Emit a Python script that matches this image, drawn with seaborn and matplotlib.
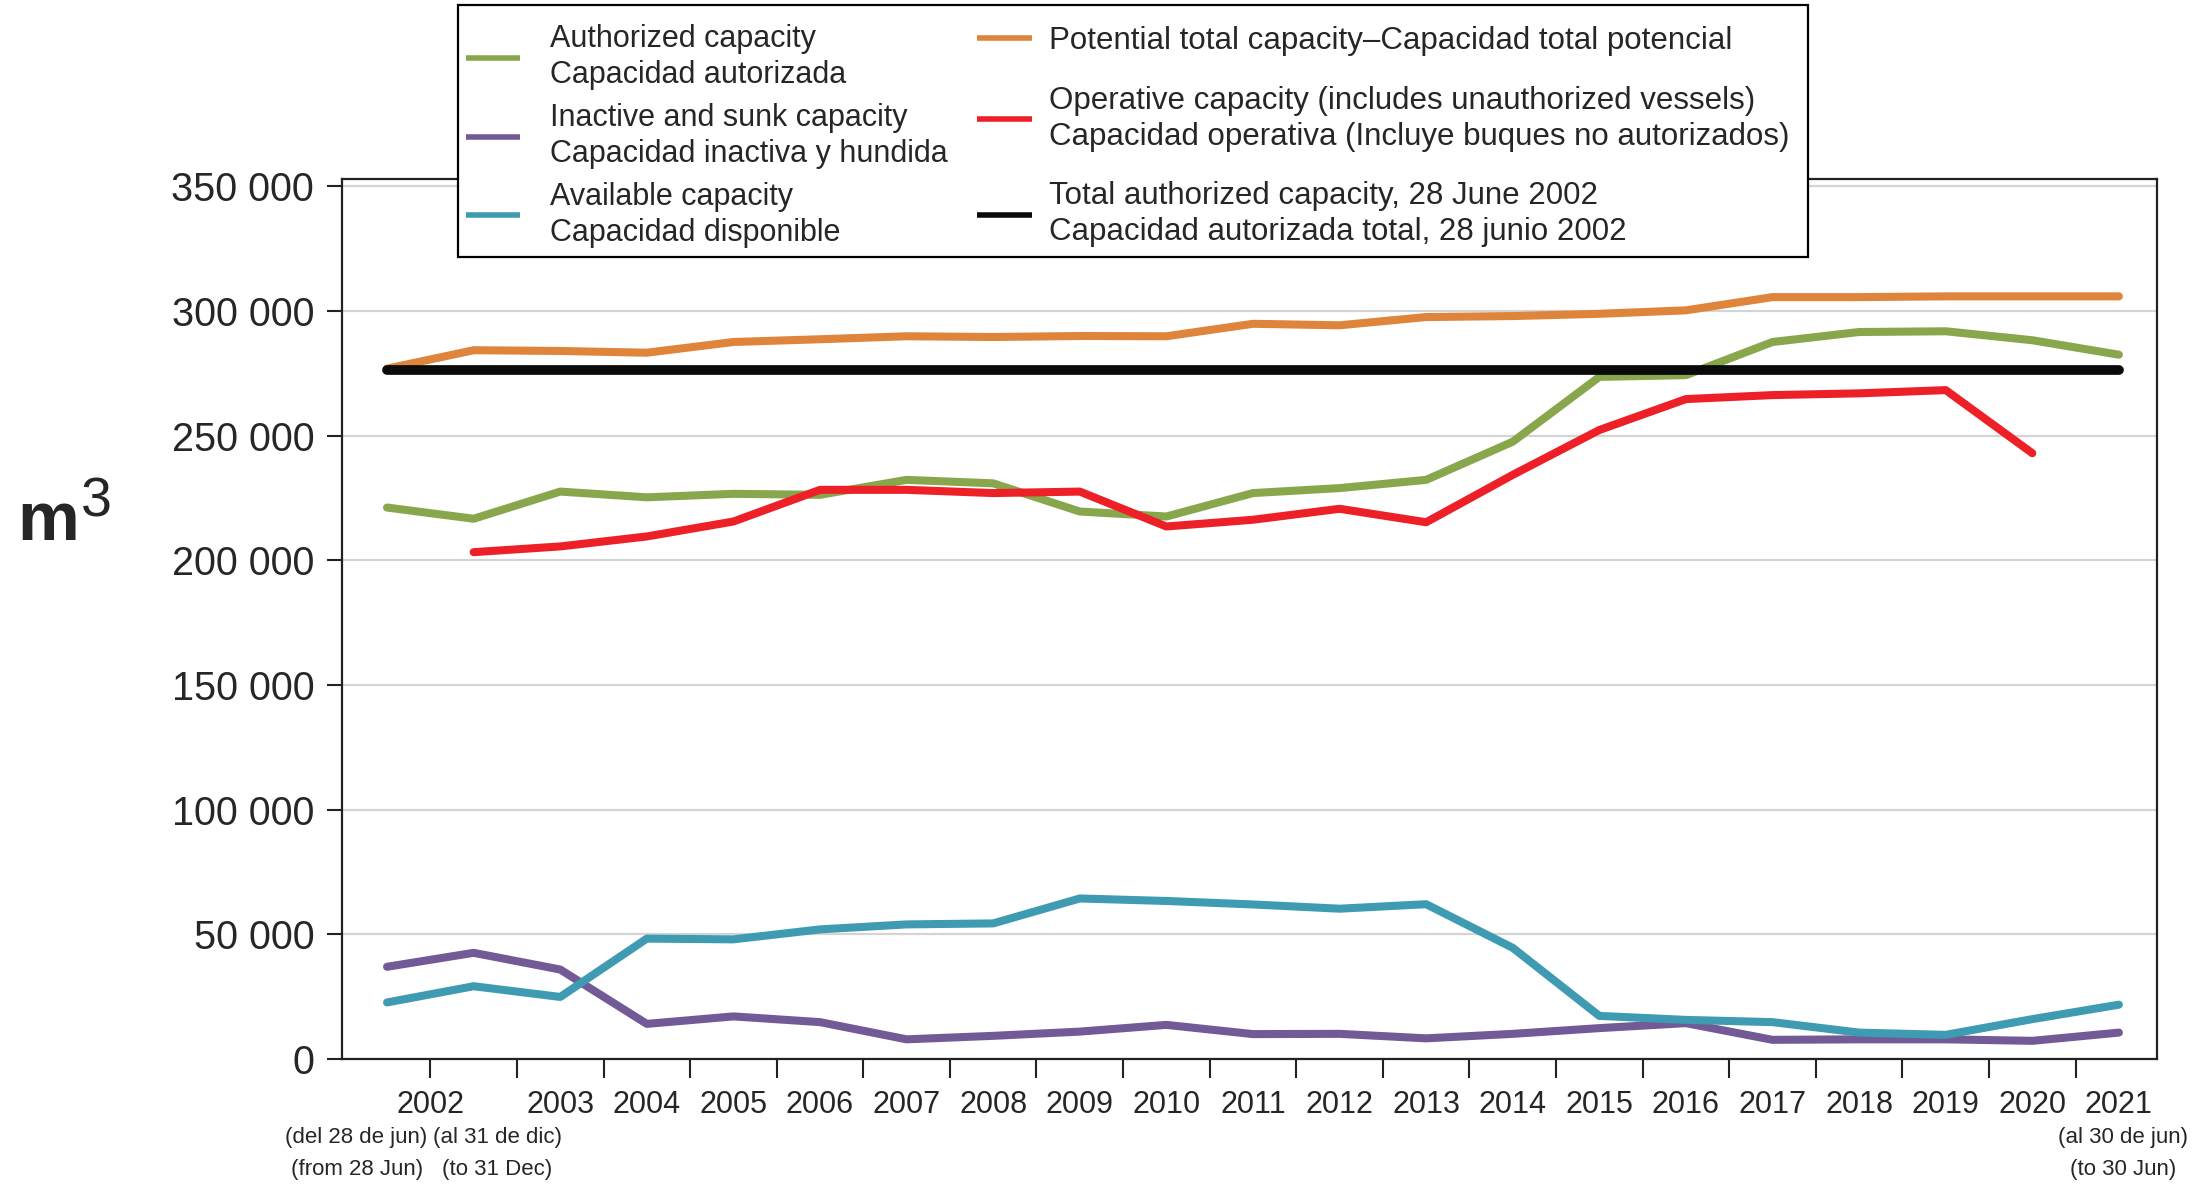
import numpy as np
import pandas as pd
import seaborn as sns
import matplotlib
import matplotlib.pyplot as plt
import matplotlib.transforms as mtransforms
from matplotlib.patches import Rectangle

matplotlib.use('Agg')

# 2002 is split in two periods (from 28 Jun / to 31 Dec), 2021 only to 30 Jun
periods = ['2002a', '2002b', '2003', '2004', '2005', '2006', '2007', '2008', '2009', '2010',
           '2011', '2012', '2013', '2014', '2015', '2016', '2017', '2018', '2019', '2020', '2021']
year_labels = ['2002', '2003', '2004', '2005', '2006', '2007', '2008', '2009', '2010', '2011',
               '2012', '2013', '2014', '2015', '2016', '2017', '2018', '2019', '2020', '2021']

authorized = [221200, 216700, 227600, 225300, 226700, 226300, 232300, 230900, 219600, 217600, 227000,
              229000, 232300, 247600, 273600, 274300, 287600, 291600, 291900, 288300, 282500]
inactive = [37000, 42600, 35900, 14100, 17100, 14800, 7900, 9300, 11000, 13700, 10000,
            10100, 8300, 10100, 12400, 14400, 7700, 7900, 7900, 7300, 10600]
available = [22700, 29200, 24900, 48300, 48000, 52000, 54000, 54400, 64400, 63400, 62000,
             60300, 62100, 44600, 17300, 15700, 14800, 10600, 9700, 16000, 21800]
potential = [276900, 284300, 284000, 283300, 287600, 288700, 289900, 289600, 290000, 289900, 294900,
             294300, 297600, 298000, 298900, 300300, 305600, 305600, 305900, 305900, 305900]
operative = [np.nan, 203300, 205600, 209600, 215600, 228300, 228300, 227000, 227600, 213600, 216300,
             220700, 215300, 234300, 252300, 264700, 266300, 267000, 268300, 243000, np.nan]
total_authorized_2002 = 276300

y_ticks = [0, 50000, 100000, 150000, 200000, 250000, 300000, 350000]
y_tick_labels = ['0', '50 000', '100 000', '150 000', '200 000', '250 000', '300 000', '350 000']

df = pd.DataFrame({'pos': np.arange(len(periods)), 'authorized': authorized, 'inactive': inactive,
                   'available': available, 'potential': potential, 'operative': operative})

sns.set_style('white')
plt.rcParams['font.family'] = ['Liberation Sans', 'DejaVu Sans']

fig = plt.figure(figsize=(22.08, 11.85), dpi=100)
ax = fig.add_axes([0.1549, 0.1063, 0.822, 0.7427])

lw = 5.8
sns.lineplot(data=df, x='pos', y='inactive', color='#725a96', linewidth=lw, ax=ax, zorder=2,
             label='Inactive and sunk capacity\nCapacidad inactiva y hundida')
sns.lineplot(data=df, x='pos', y='available', color='#3e9bb1', linewidth=lw, ax=ax, zorder=3,
             label='Available capacity\nCapacidad disponible')
sns.lineplot(data=df, x='pos', y='authorized', color='#88a64c', linewidth=lw, ax=ax, zorder=4,
             label='Authorized capacity\nCapacidad autorizada')
sns.lineplot(data=df, x='pos', y='potential', color='#df843b', linewidth=lw, ax=ax, zorder=5,
             label='Potential total capacity\u2013Capacidad total potencial')
sns.lineplot(data=df.dropna(), x='pos', y='operative', color='#ee2027', linewidth=lw, ax=ax, zorder=6,
             label='Operative capacity (includes unauthorized vessels)\nCapacidad operativa (Incluye buques no autorizados)')
sns.lineplot(x=[df['pos'].iloc[0], df['pos'].iloc[-1]], y=[total_authorized_2002] * 2, color='#0a0a0a',
             linewidth=7, ax=ax, zorder=7, solid_capstyle='round',
             label='Total authorized capacity, 28 June 2002\nCapacidad autorizada total, 28 junio 2002')

ax.set_xlim(-0.52, 20.44)
ax.set_ylim(0, 353000)
ax.set_xlabel('')
ax.set_ylabel('')

# year labels: 2002 sits between its two half-year points
label_pos = [0.5] + list(df['pos'].iloc[2:])
ax.set_xticks(label_pos)
ax.set_xticklabels(year_labels)
ax.set_xticks(df['pos'].iloc[:-1] + 0.5, minor=True)
ax.xaxis.remove_overlapping_locs = False
ax.tick_params(axis='x', which='major', bottom=True, length=0, pad=22, labelsize=22)
ax.tick_params(axis='x', which='minor', bottom=True, length=14, width=1.5, color='#222222', direction='out')

ax.set_yticks(y_ticks)
ax.set_yticklabels(y_tick_labels)
ax.tick_params(axis='y', left=True, length=11, width=1.5, color='#222222', pad=9, labelsize=28.5)

ax.yaxis.grid(True, color='#d4d4d4', linewidth=1.6)
ax.xaxis.grid(False)
ax.set_axisbelow(True)
for sp in ax.spines.values():
    sp.set_color('#222222')
    sp.set_linewidth(1.6)

trans = mtransforms.blended_transform_factory(ax.transData, ax.transAxes)
sub_kw = dict(transform=trans, va='top', multialignment='center', fontsize=16, linespacing=1.7)
ax.text(0.47, -0.077, '(del 28 de jun)\n(from 28 Jun)', ha='right', **sub_kw)
ax.text(0.53, -0.077, '(al 31 de dic)\n(to 31 Dec)', ha='left', **sub_kw)
ax.text(20.05, -0.077, '(al 30 de jun)\n(to 30 Jun)', ha='center', **sub_kw)

# m3 unit label
fig.text(0.008, 0.544, 'm', fontsize=50, fontweight='bold', ha='left', va='baseline')
fig.text(0.0365, 0.598, '3', fontsize=40, ha='left', va='top')

# legend: framed box with two independent columns
handles, labels = ax.get_legend_handles_labels()
ax.get_legend().remove()
fig.add_artist(Rectangle((458 / 2208, 1 - 257 / 1185), 1350 / 2208, 252 / 1185,
                         transform=fig.transFigure, facecolor='white', edgecolor='black',
                         linewidth=1.6, zorder=4))

leg_kw = dict(loc='upper left', borderaxespad=0, borderpad=0, frameon=False, handlelength=1.76)
col1 = [2, 0, 1]
col2 = [3, 4, 5]
leg1 = fig.legend([handles[i] for i in col1], [labels[i] for i in col1],
                  bbox_to_anchor=(466 / 2208, 1 - 24 / 1185), handletextpad=1.0, labelspacing=0.42,
                  fontsize=22, **leg_kw)
leg2 = fig.legend([handles[i] for i in col2], [labels[i] for i in col2],
                  bbox_to_anchor=(977 / 2208, 1 - 26 / 1185), handletextpad=0.55, labelspacing=0.95,
                  fontsize=22.5, **leg_kw)
for leg in (leg1, leg2):
    for t in leg.get_texts():
        t.set_linespacing(1.26)
    for line in leg.get_lines():
        line.set_linewidth(4)
        line.set_solid_capstyle('butt')

fig.savefig('out.png', dpi=100)
